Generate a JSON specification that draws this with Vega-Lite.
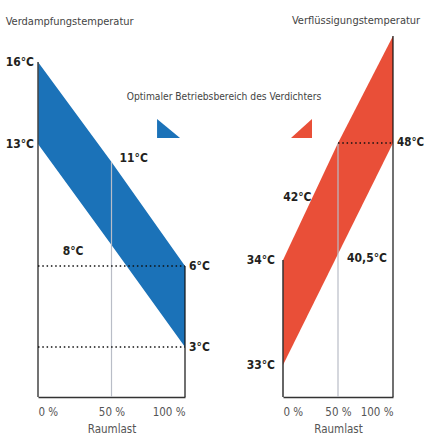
{
  "$schema": "https://vega.github.io/schema/vega-lite/v6.json",
  "background": "white",
  "padding": {"left": 5, "top": 15, "right": 2, "bottom": 0},
  "spacing": 98,
  "bounds": "flush",
  "config": {
    "view": {"stroke": null},
    "font": "DejaVu Sans Condensed, Roboto Condensed, Roboto, sans-serif",
    "title": {"font": "DejaVu Sans Condensed, Roboto Condensed, Roboto, sans-serif", "fontSize": 11, "fontWeight": "normal", "color": "#444", "frame": "bounds", "offset": 9},
    "axis": {"labelFont": "DejaVu Sans Condensed, Roboto Condensed, Roboto, sans-serif", "titleFont": "DejaVu Sans Condensed, Roboto Condensed, Roboto, sans-serif"}
  },
  "hconcat": [
    {
      "width": 147,
      "height": 361,
      "title": {"text": "Verdampfungstemperatur", "anchor": "start"},
      "data": {"values": [{"p": 0, "lo": 13, "hi": 16}, {"p": 50, "lo": 8, "hi": 11}, {"p": 100, "lo": 3, "hi": 6}]},
      "encoding": {
        "x": {"field": "p", "type": "quantitative", "scale": {"domain": [0, 100], "nice": false},
          "axis": {"values": [0, 50, 100], "labelExpr": "datum.value + ' %'", "ticks": false, "tickSize": 0, "grid": false, "domainColor": "#333", "domainWidth": 1.5, "labelColor": "#555", "labelFontSize": 11.5, "labelPadding": 9, "title": "Raumlast", "titleColor": "#555", "titleFontSize": 11.5, "titleFontWeight": "normal", "titlePadding": 6}},
        "y": {"type": "quantitative", "scale": {"domain": [1.1, 3, 6, 8, 11, 13, 16, 17], "range": [361, 311, 230, 209, 126, 108, 26, 0], "nice": false, "zero": false}, "axis": null}
      },
      "layer": [
        {"mark": {"type": "area", "color": "#1b72b8", "opacity": 1}, "encoding": {"y": {"field": "hi"}, "y2": {"field": "lo"}}},
        {"data": {"values": [{"p": 50, "t1": 11, "t2": 1.1}]}, "mark": {"type": "rule", "color": "#b9bdc7", "strokeWidth": 1.2}, "encoding": {"y": {"field": "t1"}, "y2": {"field": "t2"}}},
        {"data": {"values": [{"p": 0, "t1": 16, "t2": 1.1}]}, "mark": {"type": "rule", "color": "#444", "strokeWidth": 1.5}, "encoding": {"y": {"field": "t1"}, "y2": {"field": "t2"}}},
        {"data": {"values": [{"p": 100, "t1": 6, "t2": 1.1}]}, "mark": {"type": "rule", "color": "#111", "strokeWidth": 1.2}, "encoding": {"y": {"field": "t1"}, "y2": {"field": "t2"}}},
        {"data": {"values": [{"p": 0, "p2": 100, "t": 6}, {"p": 0, "p2": 100, "t": 3}]}, "mark": {"type": "rule", "color": "#111", "strokeWidth": 1.3, "strokeDash": [1.5, 2.8]}, "encoding": {"y": {"field": "t"}, "x2": {"field": "p2"}}},
        {"data": {"values": [{"p": 0, "t": 16, "label": "16°C"}, {"p": 0, "t": 13, "label": "13°C"}]}, "mark": {"type": "text", "align": "right", "baseline": "middle", "dx": -4, "fontSize": 12, "fontWeight": "bold", "color": "#231f20"}, "encoding": {"y": {"field": "t"}, "text": {"field": "label"}}},
        {"data": {"values": [{"p": 100, "t": 6, "label": "6°C"}, {"p": 100, "t": 3, "label": "3°C"}]}, "mark": {"type": "text", "align": "left", "baseline": "middle", "dx": 4, "fontSize": 12, "fontWeight": "bold", "color": "#231f20"}, "encoding": {"y": {"field": "t"}, "text": {"field": "label"}}},
        {"data": {"values": [{"p": 50, "t": 11, "label": "11°C"}]}, "mark": {"type": "text", "align": "left", "baseline": "middle", "dx": 8, "dy": -4, "fontSize": 12, "fontWeight": "bold", "color": "#231f20"}, "encoding": {"y": {"field": "t"}, "text": {"field": "label"}}},
        {"data": {"values": [{"p": 50, "t": 8, "label": "8°C"}]}, "mark": {"type": "text", "align": "right", "baseline": "middle", "dx": -28, "dy": 6, "fontSize": 12, "fontWeight": "bold", "color": "#231f20"}, "encoding": {"y": {"field": "t"}, "text": {"field": "label"}}},
        {"data": {"values": [{"p": 126.5, "t": 14.72, "label": "Optimaler Betriebsbereich des Verdichters"}]}, "mark": {"type": "text", "align": "center", "baseline": "middle", "fontSize": 10.2, "color": "#444"}, "encoding": {"y": {"field": "t"}, "text": {"field": "label"}}},
        {"data": {"values": [{"p": 88.8, "t": 13.57}]}, "mark": {"type": "point", "shape": "M-1,-0.83L-1,0.83L1,0.83Z", "size": 529, "filled": true, "opacity": 1, "color": "#1b72b8", "strokeWidth": 0}, "encoding": {"y": {"field": "t"}}}
      ]
    },
    {
      "width": 110,
      "height": 361,
      "title": {"text": "Verflüssigungstemperatur", "anchor": "end", "dx": -4},
      "data": {"values": [{"p": 0, "lo": 33, "hi": 34}, {"p": 50, "lo": 40.5, "hi": 48}, {"p": 100, "lo": 48, "hi": 62}]},
      "encoding": {
        "x": {"field": "p", "type": "quantitative", "scale": {"domain": [0, 100], "nice": false},
          "axis": {"values": [0, 50, 100], "labelExpr": "datum.value + ' %'", "ticks": false, "tickSize": 0, "grid": false, "domainColor": "#333", "domainWidth": 1.5, "labelColor": "#555", "labelFontSize": 11.5, "labelPadding": 9, "title": "Raumlast", "titleColor": "#555", "titleFontSize": 11.5, "titleFontWeight": "normal", "titlePadding": 6}},
        "y": {"type": "quantitative", "scale": {"domain": [32.7, 33, 34, 40.5, 42, 48, 62], "range": [361, 329, 224, 218, 168, 107, 0], "nice": false, "zero": false}, "axis": null}
      },
      "layer": [
        {"mark": {"type": "area", "color": "#e94f38", "opacity": 1}, "encoding": {"y": {"field": "hi"}, "y2": {"field": "lo"}}},
        {"data": {"values": [{"p": 50, "t1": 48, "t2": 32.7}]}, "mark": {"type": "rule", "color": "#b9bdc7", "strokeWidth": 1.2}, "encoding": {"y": {"field": "t1"}, "y2": {"field": "t2"}}},
        {"data": {"values": [{"p": 0, "t1": 34, "t2": 32.7}]}, "mark": {"type": "rule", "color": "#333", "strokeWidth": 1.5}, "encoding": {"y": {"field": "t1"}, "y2": {"field": "t2"}}},
        {"data": {"values": [{"p": 100, "t1": 62, "t2": 32.7}]}, "mark": {"type": "rule", "color": "#111", "strokeWidth": 1.2}, "encoding": {"y": {"field": "t1"}, "y2": {"field": "t2"}}},
        {"data": {"values": [{"p": 50, "p2": 100, "t": 48}]}, "mark": {"type": "rule", "color": "#111", "strokeWidth": 1.3, "strokeDash": [1.5, 2.8]}, "encoding": {"y": {"field": "t"}, "x2": {"field": "p2"}}},
        {"data": {"values": [{"p": 0, "t": 34, "label": "34°C"}, {"p": 0, "t": 33, "label": "33°C"}]}, "mark": {"type": "text", "align": "right", "baseline": "middle", "dx": -8, "fontSize": 12, "fontWeight": "bold", "color": "#231f20"}, "encoding": {"y": {"field": "t"}, "text": {"field": "label"}}},
        {"data": {"values": [{"p": 100, "t": 48, "label": "48°C"}]}, "mark": {"type": "text", "align": "left", "baseline": "middle", "dx": 4, "fontSize": 11.5, "fontWeight": "bold", "color": "#231f20"}, "encoding": {"y": {"field": "t"}, "text": {"field": "label"}}},
        {"data": {"values": [{"p": 25, "t": 42, "label": "42°C"}]}, "mark": {"type": "text", "align": "right", "baseline": "middle", "dx": 1, "dy": -7, "fontSize": 12, "fontWeight": "bold", "color": "#231f20"}, "encoding": {"y": {"field": "t"}, "text": {"field": "label"}}},
        {"data": {"values": [{"p": 50, "t": 40.5, "label": "40,5°C"}]}, "mark": {"type": "text", "align": "left", "baseline": "middle", "dx": 9, "dy": 4, "fontSize": 12, "fontWeight": "bold", "color": "#231f20"}, "encoding": {"y": {"field": "t"}, "text": {"field": "label"}}},
        {"data": {"values": [{"p": 16.8, "t": 49.9}]}, "mark": {"type": "point", "shape": "M1,-0.9L1,0.9L-1,0.9Z", "size": 441, "filled": true, "opacity": 1, "color": "#e94f38", "strokeWidth": 0}, "encoding": {"y": {"field": "t"}}}
      ]
    }
  ]
}
